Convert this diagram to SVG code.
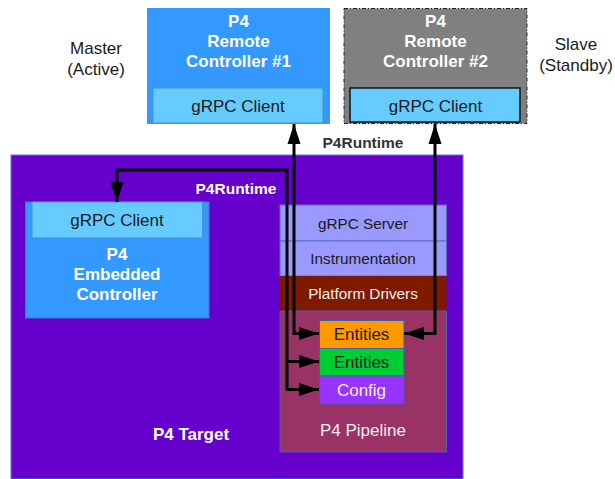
<svg xmlns="http://www.w3.org/2000/svg" width="615" height="479" viewBox="0 0 615 479">
<defs>
<style>
text{font-family:"Liberation Sans",Arial,sans-serif;text-anchor:middle}
.b{font-weight:bold}
.w{fill:#ffffff}
.d{fill:#1a1a1a}
.lt{fill:#eeeeee}
.s17{font-size:17px}
.s15{font-size:15.3px}
.ln{fill:none;stroke:#000;stroke-width:3}
</style>
<marker id="ah" markerUnits="userSpaceOnUse" markerWidth="21" markerHeight="14" viewBox="0 0 21 14" refX="20" refY="7" orient="auto-start-reverse">
<path d="M0,0.5 L20,7 L0,13.5 Z" fill="#000"/>
</marker>
</defs>
<rect width="615" height="479" fill="#ffffff"/>

<g id="target">
<rect x="11" y="155" width="452" height="324" fill="#6600cc" stroke="#6e6ed8" stroke-width="1"/>
<text class="b w s17" x="191" y="440">P4 Target</text>
</g>

<g id="master-label">
<text class="d s17" x="96" y="54">Master</text>
<text class="d s17" x="96" y="75">(Active)</text>
</g>
<g id="slave-label">
<text class="d s17" x="576" y="50">Slave</text>
<text class="d s17" x="576" y="71">(Standby)</text>
</g>

<g id="remote1">
<rect x="147" y="8" width="183" height="116" fill="#3399ff"/>
<text class="b w s17" x="238.5" y="27">P4</text>
<text class="b w s17" x="238.5" y="47">Remote</text>
<text class="b w s17" x="238.5" y="67">Controller #1</text>
<rect x="153" y="88" width="170" height="35" fill="#66ccff" stroke="#4a8fd6" stroke-width="1"/>
<text class="d s17" x="238" y="112">gRPC Client</text>
</g>

<g id="remote2">
<rect x="344" y="8.5" width="183" height="115" fill="#808080" stroke="#222" stroke-width="1" stroke-dasharray="4,2,1,2"/>
<text class="b w s17" x="435.5" y="27">P4</text>
<text class="b w s17" x="435.5" y="47">Remote</text>
<text class="b w s17" x="435.5" y="67">Controller #2</text>
<rect x="350" y="88" width="170" height="34" fill="#66ccff" stroke="#000" stroke-width="1.3"/>
<text class="d s17" x="435.5" y="112">gRPC Client</text>
</g>

<g id="embedded">
<rect x="25.5" y="202" width="183.5" height="116" fill="#3399ff" stroke="#3a7bc8" stroke-width="1"/>
<rect x="32" y="202" width="170.5" height="36" fill="#66ccff" stroke="#4a8fd6" stroke-width="1"/>
<text class="d s17" x="117" y="226">gRPC Client</text>
<text class="b w s17" x="117" y="260">P4</text>
<text class="b w s17" x="117" y="280">Embedded</text>
<text class="b w s17" x="117" y="300">Controller</text>
</g>

<g id="grpc-server">
<rect x="280" y="205" width="166.5" height="36" fill="#9999ff" stroke="#5a6fc0" stroke-width="1"/>
<text class="d s15" x="363" y="229">gRPC Server</text>
</g>
<g id="instrumentation">
<rect x="280" y="241" width="166.5" height="35" fill="#9999ff" stroke="#5a6fc0" stroke-width="1"/>
<text class="d s15" x="363" y="264">Instrumentation</text>
</g>
<g id="platform-drivers">
<rect x="280" y="276" width="166.5" height="35" fill="#7f1a00"/>
<text class="lt s15" x="363" y="299">Platform Drivers</text>
</g>
<g id="pipeline">
<rect x="280" y="311" width="166.5" height="141" fill="#993366" stroke="#4a5fb0" stroke-width="1"/>
<text class="lt s17" x="363" y="436">P4 Pipeline</text>
</g>
<g id="entities1">
<rect x="319.5" y="320.5" width="84.5" height="28" fill="#ff9900" stroke="#3f5fa8" stroke-width="1"/>
<text class="d s17" x="361.5" y="340">Entities</text>
</g>
<g id="entities2">
<rect x="319.5" y="348.5" width="84.5" height="27.5" fill="#00cc33" stroke="#3f5fa8" stroke-width="1"/>
<text class="d s17" x="361.5" y="368">Entities</text>
</g>
<g id="config">
<rect x="319.5" y="376" width="84.5" height="28" fill="#9933ff" stroke="#3f5fa8" stroke-width="1"/>
<text class="lt s17" x="361.5" y="396">Config</text>
</g>

<g id="connectors">
<path class="ln" d="M294,124 L294,333.5 L319,333.5" marker-start="url(#ah)" marker-end="url(#ah)"/>
<path class="ln" d="M435,124 L435,333.5 L404,333.5" marker-start="url(#ah)" marker-end="url(#ah)"/>
<path class="ln" d="M117,202 L117,170 L287,170 L287,389.5 L319,389.5" marker-start="url(#ah)" marker-end="url(#ah)"/>
<path class="ln" d="M287,361.5 L319,361.5" marker-end="url(#ah)"/>
<text class="b" x="363" y="148" fill="#333333" style="font-size:15.5px">P4Runtime</text>
<text class="b w" x="236" y="194" style="font-size:15.5px">P4Runtime</text>
</g>
</svg>
